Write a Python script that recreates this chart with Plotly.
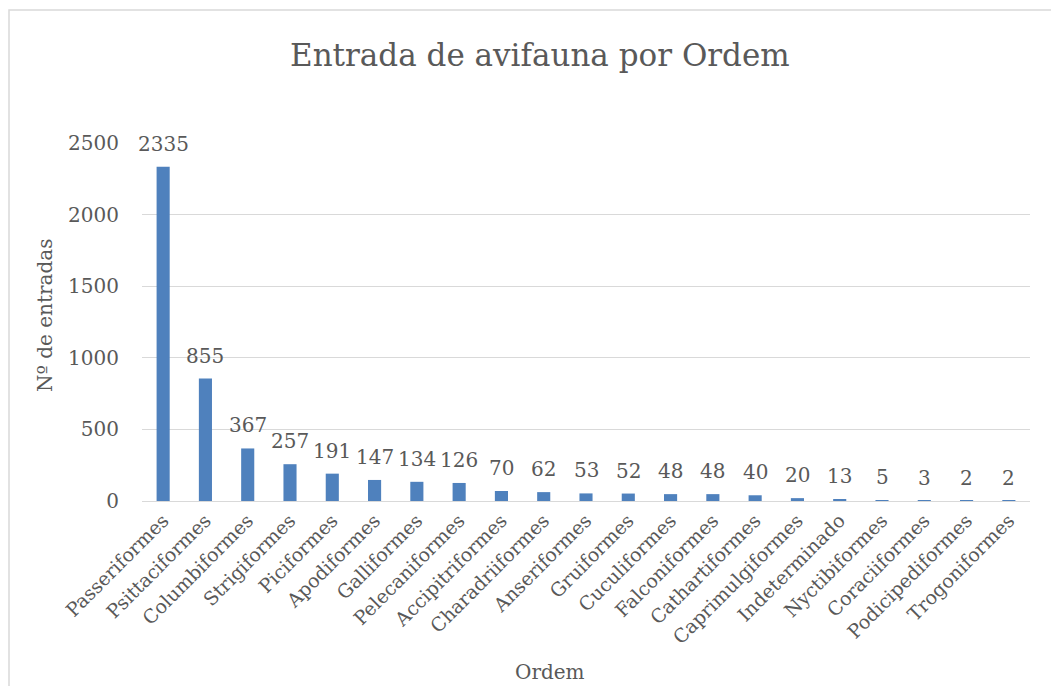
import plotly.graph_objects as go

ordens = [
    "Passeriformes", "Psittaciformes", "Columbiformes", "Strigiformes",
    "Piciformes", "Apodiformes", "Galliformes", "Pelecaniformes",
    "Accipitriformes", "Charadriiformes", "Anseriformes", "Gruiformes",
    "Cuculiformes", "Falconiformes", "Cathartiformes", "Caprimulgiformes",
    "Indeterminado", "Nyctibiformes", "Coraciiformes", "Podicipediformes",
    "Trogoniformes",
]
entradas = [2335, 855, 367, 257, 191, 147, 134, 126, 70, 62, 53, 52, 48, 48,
            40, 20, 13, 5, 3, 2, 2]
y_ticks = [0, 500, 1000, 1500, 2000, 2500]

FONT = "DejaVu Serif"
GREY = "#595959"


def add_bar_trace(figure, x, y, color):
    figure.add_trace(go.Bar(
        x=x,
        y=y,
        cliponaxis=False,
        marker=dict(color=color, line_width=0),
    ))
    # data labels, a bit higher above the bars than plotly's own outside text
    for cat, val in zip(x, y):
        figure.add_annotation(
            x=cat, y=val, text=str(val), showarrow=False,
            xanchor="center", yanchor="bottom", yshift=9,
            font=dict(family=FONT, size=20, color=GREY),
        )


fig = go.Figure()
add_bar_trace(fig, ordens, entradas, "#4f81bd")

# page body has an 8px margin, so the figure is drawn 8px smaller
fig.update_layout(
    width=1051, height=678,
    margin=dict(l=134, r=29, t=135, b=185, autoexpand=False),
    paper_bgcolor="white", plot_bgcolor="white",
    font=dict(family=FONT, size=20, color=GREY),
    bargap=0.69,
    showlegend=False,
    xaxis=dict(
        range=[-0.5, len(ordens) - 0.5],
        automargin=False,
        tickangle=-45,
        showgrid=False,
        showline=True, linecolor="#d9d9d9", linewidth=1,
        ticks="",
        tickfont=dict(family=FONT, size=19, color=GREY),
    ),
    yaxis=dict(
        range=[0, 2500],
        automargin=False,
        tickvals=y_ticks,
        showgrid=True, gridcolor="#d9d9d9", gridwidth=1,
        zeroline=False,
        ticks="",
        ticklabelstandoff=22,
        tickfont=dict(family=FONT, size=20, color=GREY),
    ),
    shapes=[dict(
        type="rect", xref="paper", yref="paper",
        x0=-133 / 888, x1=915.5 / 888, y0=-0.6, y1=(501 - 10) / 358,
        line=dict(color="#d9d9d9", width=1.5), fillcolor="rgba(0,0,0,0)",
        layer="below",
    )],
)

fig.add_annotation(
    text="Entrada de avifauna por Ordem", xref="paper", yref="paper",
    x=(540 - 142) / 888, y=(501 - 55) / 358, showarrow=False,
    xanchor="center", yanchor="middle",
    font=dict(family=FONT, size=31, color=GREY))
fig.add_annotation(
    text="Nº de entradas", xref="paper", yref="paper",
    x=(45 - 142) / 888, y=(501 - 315) / 358, showarrow=False,
    textangle=-90, xanchor="center", yanchor="middle",
    font=dict(family=FONT, size=20, color=GREY))
fig.add_annotation(
    text="Ordem", xref="paper", yref="paper",
    x=(550 - 142) / 888, y=(501 - 672) / 358, showarrow=False,
    xanchor="center", yanchor="middle",
    font=dict(family=FONT, size=20, color=GREY))

fig.write_html("out.html")
